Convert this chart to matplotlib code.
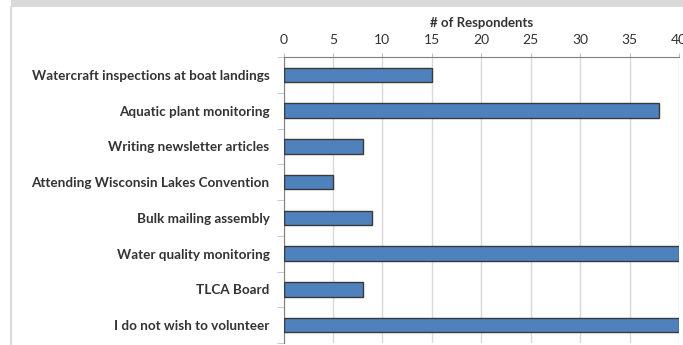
import matplotlib
matplotlib.use("Agg")
import matplotlib.pyplot as plt
import numpy as np
from matplotlib.lines import Line2D
from matplotlib.patches import Rectangle

categories = [
    "Watercraft inspections at boat landings",
    "Aquatic plant monitoring",
    "Writing newsletter articles",
    "Attending Wisconsin Lakes Convention",
    "Bulk mailing assembly",
    "Water quality monitoring",
    "TLCA Board",
    "I do not wish to volunteer",
]
values = [15, 38, 8, 5, 9, 40, 8, 40]
xticks = [0, 5, 10, 15, 20, 25, 30, 35, 40]
xlabel = "# of Respondents"

W, H = 683, 345
fig = plt.figure(figsize=(W / 100, H / 100), dpi=100)
fig.patch.set_facecolor("white")

# frame decorations (cropped screenshot border)
fig.add_artist(Rectangle((11 / W, 1 - 7 / H), 1 - 11 / W, 7 / H,
                         transform=fig.transFigure, facecolor="#d9d9d9",
                         edgecolor="none"))
fig.add_artist(Line2D([11 / W, 11 / W], [0, 1 - 7 / H], transform=fig.transFigure,
                      color="#d4d4d4", lw=1.2))

left, right = 283.5 / W, 679 / W
top, bottom = 1 - 57 / H, 1 - 343 / H
ax = fig.add_axes([left, bottom, right - left, top - bottom])

txt = "#333333"
n = len(categories)
y = np.arange(n)
ax.barh(y, values, height=0.41, color="#4f81bd", edgecolor="#3a3a3a",
        linewidth=1.0, zorder=3)
ax.set_ylim(n - 0.5, -0.5)
ax.set_xlim(0, 40)

ax.xaxis.tick_top()
ax.xaxis.set_label_position("top")
ax.set_xticks(xticks)
ax.set_xticklabels([str(t) for t in xticks], fontsize=10, color=txt,
                   family="Lato")
ax.tick_params(axis="x", direction="out", length=3, color="#bfbfbf", pad=5)
ax.set_xlabel(xlabel, fontsize=9.5, fontweight="bold", color=txt,
              family="Lato", labelpad=5)

ax.set_yticks(y)
ax.set_yticklabels(categories, fontsize=9.7, fontweight="bold", color=txt,
                   family="Lato")
ax.tick_params(axis="y", which="major", length=0, pad=10)
ax.set_yticks(np.arange(n + 1) - 0.5, minor=True)
ax.tick_params(axis="y", which="minor", length=5, color="#bfbfbf", direction="out")

ax.grid(axis="x", color="#d9d9d9", linewidth=1.0, zorder=0)
for s in ["right", "bottom"]:
    ax.spines[s].set_visible(False)
ax.spines["left"].set_color("#7f7f7f")
ax.spines["top"].set_color("#7f7f7f")
ax.set_axisbelow(True)

fig.savefig("out.png", dpi=100)
